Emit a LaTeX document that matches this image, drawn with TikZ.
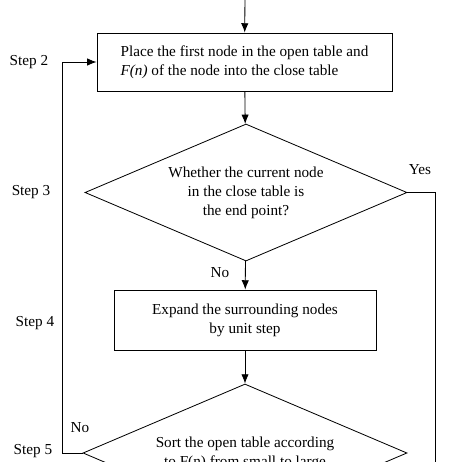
\documentclass[tikz,border=0pt]{standalone}
\usepackage{fontspec}
\setmainfont{Liberation Serif}
\usetikzlibrary{shapes.geometric, arrows.meta}

\begin{document}
\begin{tikzpicture}[x=0.03cm,y=-0.03cm,>={Latex[length=2.8mm,width=2.2mm]},line width=0.7pt,
  font=\fontsize{13}{16.2}\selectfont,
  stepbox/.style={rectangle,draw,inner sep=0pt},
  choice/.style={diamond,draw,aspect=2.35,inner sep=0pt,align=center},
  steplabel/.style={inner sep=0pt}]

\useasboundingbox (0,0) rectangle (462,462);
\clip (0,0) rectangle (462,462);

\coordinate (start) at (245,-5);
\node (place) at (244.5,62) [stepbox,minimum width=8.85cm,minimum height=1.74cm,align=left]
{Place the first node in the open table and\\\textit{F(n)} of the node into the close table};
\node (check) at (246,192.5) [choice,minimum width=9.66cm,minimum height=4.11cm]
{Whether the current node\\in the close table is\\the end point?};
\node (expand) at (245,320) [stepbox,minimum width=7.86cm,minimum height=1.8cm,align=center]
{Expand the surrounding nodes\\by unit step};
\node (sort) at (245,453) [choice,minimum width=9.72cm,minimum height=4.14cm]
{Sort the open table according\\to F(n) from small to large};

\coordinate (yesend) at (435,470);
\coordinate (loop) at (62,453);

\draw[->] (start) -- (place);
\draw[->] (place) -- (check);
\draw[->] (check) -- (expand);
\draw[->] (expand) -- (sort);
\draw (check.east) -| (yesend);
\draw[->] (sort.west) -- (loop) |- (place.west);

\node (yes) at (420,170) [steplabel] {Yes};
\node (no1) at (220,273) [steplabel] {No};
\node (no2) at (80,428) [steplabel] {No};
\node (s2) at (29,62) [steplabel] {Step 2};
\node (s3) at (31,192) [steplabel] {Step 3};
\node (s4) at (35,323) [steplabel] {Step 4};
\node (s5) at (33,451) [steplabel] {Step 5};

\end{tikzpicture}
\end{document}
